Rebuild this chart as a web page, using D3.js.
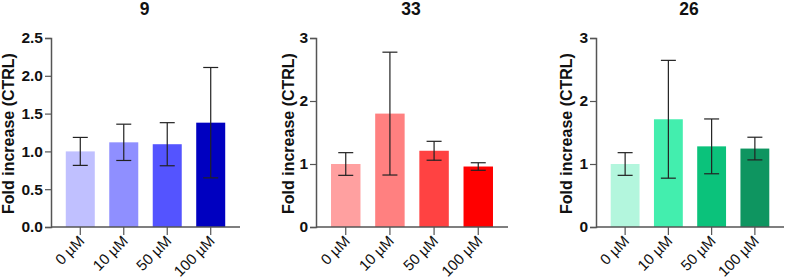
<!DOCTYPE html>
<html>
<head>
<meta charset="utf-8">
<script src="https://cdn.jsdelivr.net/npm/d3@7"></script>
<style>
  body { margin: 0; background: #fff; }
  svg { display: block; font-family: Arial, "Liberation Sans", sans-serif; }
</style>
</head>
<body>
<div id="chart"></div>
<script>
const doses = ['0 µM', '10 µM', '50 µM', '100 µM']
const titles = ['9', '33', '26']

// mean fold increase per dose
const means9 = [1.0, 1.12, 1.095, 1.38]
const means33 = [1.0, 1.80, 1.21, 0.96]
const means26 = [1.0, 1.71, 1.28, 1.245]

// error bar half-length
const err9 = [0.185, 0.24, 0.285, 0.73]
const err33 = [0.18, 0.975, 0.15, 0.06]
const err26 = [0.18, 0.935, 0.435, 0.18]

const ticks9 = [0, 0.5, 1.0, 1.5, 2.0, 2.5]
const ticks33 = [0, 1, 2, 3]
const ticks26 = [0, 1, 2, 3]

const colors9 = ['#c0c0ff', '#8f8fff', '#5454ff', '#0000c0']
const colors33 = ['#ffa0a0', '#ff8080', '#ff4242', '#ff0000']
const colors26 = ['#b3f6dd', '#43eeae', '#0bc27b', '#0e9560']

const panels = [
  { title: titles[0], means: means9, err: err9, ticks: ticks9, colors: colors9, fmt: d3.format('.1f'), x0: 51, x1: 240, labelX: 14 },
  { title: titles[1], means: means33, err: err33, ticks: ticks33, colors: colors33, fmt: d3.format('d'), x0: 316, x1: 508, labelX: 294 },
  { title: titles[2], means: means26, err: err26, ticks: ticks26, colors: colors26, fmt: d3.format('d'), x0: 596, x1: 784, labelX: 572 },
]

const width = 787
const height = 279
const yTop = 38
const yBottom = 227
const axisColor = '#555'

const svg = d3.select('#chart')
  .append('svg')
  .attr('width', width)
  .attr('height', height)

panels.forEach(p => {
  const g = svg.append('g')

  const xScale = d3.scaleBand()
    .domain(doses)
    .range([p.x0, p.x1])
    .paddingInner(0.333)
    .paddingOuter(0.34)

  const yScale = d3.scaleLinear()
    .domain([0, d3.max(p.ticks)])
    .range([yBottom, yTop])

  const rows = doses.map((d, i) => ({ dose: d, mean: p.means[i], err: p.err[i], color: p.colors[i] }))

  // bars
  g.append('g')
    .selectAll('rect')
    .data(rows)
    .join('rect')
    .attr('x', d => xScale(d.dose))
    .attr('y', d => yScale(d.mean))
    .attr('width', xScale.bandwidth())
    .attr('height', d => yScale(0) - yScale(d.mean))
    .attr('fill', d => d.color)

  // error bars
  const capW = 7.5
  const eb = g.append('g')
    .attr('stroke', '#222')
    .attr('stroke-width', 1.2)
  eb.selectAll('line.v')
    .data(rows)
    .join('line')
    .attr('class', 'v')
    .attr('x1', d => xScale(d.dose) + xScale.bandwidth() / 2)
    .attr('x2', d => xScale(d.dose) + xScale.bandwidth() / 2)
    .attr('y1', d => yScale(d.mean - d.err))
    .attr('y2', d => yScale(d.mean + d.err))
  ;[1, -1].forEach(sgn => {
    eb.append('g')
      .selectAll('line')
      .data(rows)
      .join('line')
      .attr('x1', d => xScale(d.dose) + xScale.bandwidth() / 2 - capW)
      .attr('x2', d => xScale(d.dose) + xScale.bandwidth() / 2 + capW)
      .attr('y1', d => yScale(d.mean + sgn * d.err))
      .attr('y2', d => yScale(d.mean + sgn * d.err))
  })

  // y axis
  const yAxis = g.append('g')
    .attr('transform', `translate(${p.x0},0)`)
    .call(d3.axisLeft(yScale).tickValues(p.ticks).tickFormat(p.fmt).tickSizeOuter(0).tickSize(6).tickPadding(2))
  yAxis.select('.domain').attr('stroke', axisColor).attr('stroke-width', 1.5)
  yAxis.selectAll('.tick line').attr('stroke', axisColor).attr('stroke-width', 1.2)
  yAxis.selectAll('.tick text')
    .attr('font-size', 15.5)
    .attr('font-weight', 'bold')
    .attr('fill', '#111')
    .attr('font-family', 'Arial, "Liberation Sans", sans-serif')

  // x axis
  const xAxis = g.append('g')
    .attr('transform', `translate(0,${yBottom})`)
    .call(d3.axisBottom(xScale).tickSizeOuter(0).tickSize(8).tickFormat(''))
  xAxis.select('.domain')
    .attr('d', `M${p.x0},0H${p.x1}`)
    .attr('stroke', axisColor).attr('stroke-width', 1.5)
  xAxis.selectAll('.tick line').attr('stroke', axisColor).attr('stroke-width', 1.2)

  // x labels, rotated -45
  g.append('g')
    .selectAll('text')
    .data(doses)
    .join('text')
    .attr('transform', d => `translate(${xScale(d) + xScale.bandwidth() / 2 + 5},${yBottom + 15}) rotate(-45)`)
    .attr('text-anchor', 'end')
    .attr('font-size', 15)
    .attr('fill', '#111')
    .text(d => d)

  // title
  g.append('text')
    .attr('x', (p.x0 + p.x1) / 2 - 1)
    .attr('y', 15)
    .attr('text-anchor', 'middle')
    .attr('font-size', 17.5)
    .attr('font-weight', 'bold')
    .attr('fill', '#111')
    .text(p.title)

  // y label
  g.append('text')
    .attr('transform', `translate(${p.labelX},${(yTop + yBottom) / 2 + 1}) rotate(-90)`)
    .attr('text-anchor', 'middle')
    .attr('font-size', 16)
    .attr('font-weight', 'bold')
    .attr('fill', '#111')
    .text('Fold increase (CTRL)')
})
</script>
</body>
</html>
